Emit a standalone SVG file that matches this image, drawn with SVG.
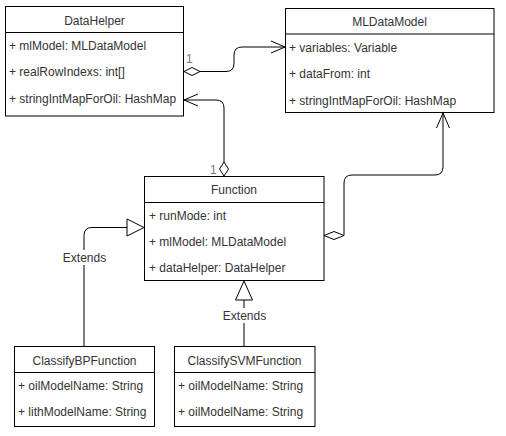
<svg xmlns="http://www.w3.org/2000/svg" width="506" height="436" viewBox="0 0 506 436">
<style>
  .box{fill:#fff;stroke:#000;stroke-width:1}
  .div{stroke:#000;stroke-width:1}
  .t{font-family:"Liberation Sans",Arial,sans-serif;font-size:12px;fill:#333}
  .c{text-anchor:middle}
  .e{fill:none;stroke:#000;stroke-width:1}
  .dia{fill:#fff;stroke:#000;stroke-width:1}
  .lbl{font-family:"Liberation Sans",Arial,sans-serif;font-size:12px;fill:#777}
</style>
<rect width="506" height="436" fill="#fff"/>

<g id="connectors">
  <!-- DataHelper -> MLDataModel (aggregation) -->
  <path class="e" d="M200,71.5 H226 Q234,71.5 234,63.5 V55 Q234,47 242,47 H285"/>
  <path class="e" d="M271,41 L285,47 L271,53"/>
  <polygon class="dia" points="184,71.5 192,67.5 200,71.5 192,75.5"/>
  <text class="lbl" x="186" y="63">1</text>

  <!-- Function -> DataHelper (aggregation) -->
  <path class="e" d="M224,162 V108 Q224,100 216,100 H184"/>
  <path class="e" d="M198,94 L184,100 L198,106"/>
  <polygon class="dia" points="224,176 219.5,169 224,162 228.5,169"/>
  <text class="lbl" x="210" y="174">1</text>

  <!-- Function -> MLDataModel (aggregation) -->
  <path class="e" d="M344,235.5 V183 Q344,175 352,175 H435 Q443,175 443,167 V113"/>
  <path class="e" d="M436.5,128 L443,113 L449.5,128"/>
  <polygon class="dia" points="324,235.5 334,231.5 344,235.5 334,239.5"/>
  <text class="lbl" x="316" y="228">1</text>

  <!-- ClassifyBPFunction -> Function (extends) -->
  <path class="e" d="M84,346 V235.5 Q84,227.5 92,227.5 H127"/>
  <polygon class="dia" points="127,219 144,227.5 127,236"/>
  <rect x="61" y="250" width="47" height="15" fill="#fff"/>
  <text class="t c" x="84.5" y="262">Extends</text>

  <!-- ClassifySVMFunction -> Function (extends) -->
  <path class="e" d="M244,346 V300"/>
  <polygon class="dia" points="235.5,300 244,281 252.5,300"/>
  <rect x="221" y="308" width="47" height="15" fill="#fff"/>
  <text class="t c" x="244.5" y="320">Extends</text>
</g>

<g id="DataHelper">
  <rect class="box" x="5.5" y="6.5" width="178" height="109.5"/>
  <line class="div" x1="5.5" y1="32.5" x2="183.5" y2="32.5"/>
  <text class="t c" x="94.5" y="24.5">DataHelper</text>
  <text class="t" x="9" y="50">+ mlModel: MLDataModel</text>
  <text class="t" x="9" y="76">+ realRowIndexs: int[]</text>
  <text class="t" x="9" y="102.5">+ stringIntMapForOil: HashMap</text>
</g>

<g id="MLDataModel">
  <rect class="box" x="285.5" y="8.5" width="208.5" height="104"/>
  <line class="div" x1="285.5" y1="34" x2="494" y2="34"/>
  <text class="t c" x="389.5" y="26">MLDataModel</text>
  <text class="t" x="289" y="51.5">+ variables: Variable</text>
  <text class="t" x="289" y="78">+ dataFrom: int</text>
  <text class="t" x="289" y="104.5">+ stringIntMapForOil: HashMap</text>
</g>

<g id="Function">
  <rect class="box" x="144.5" y="176.5" width="179.5" height="104"/>
  <line class="div" x1="144.5" y1="202.5" x2="324" y2="202.5"/>
  <text class="t c" x="234" y="193.5">Function</text>
  <text class="t" x="149" y="220">+ runMode: int</text>
  <text class="t" x="149" y="246">+ mlModel: MLDataModel</text>
  <text class="t" x="149" y="272">+ dataHelper: DataHelper</text>
</g>

<g id="ClassifyBPFunction">
  <rect class="box" x="14.5" y="346.5" width="140" height="80"/>
  <line class="div" x1="14.5" y1="372.5" x2="154.5" y2="372.5"/>
  <text class="t c" x="84.5" y="365">ClassifyBPFunction</text>
  <text class="t" x="18" y="390">+ oilModelName: String</text>
  <text class="t" x="18" y="416">+ lithModelName: String</text>
</g>

<g id="ClassifySVMFunction">
  <rect class="box" x="174.5" y="346.5" width="140.5" height="80"/>
  <line class="div" x1="174.5" y1="372.5" x2="315" y2="372.5"/>
  <text class="t c" x="244.5" y="365">ClassifySVMFunction</text>
  <text class="t" x="178" y="390">+ oilModelName: String</text>
  <text class="t" x="178" y="416">+ oilModelName: String</text>
</g>
</svg>
